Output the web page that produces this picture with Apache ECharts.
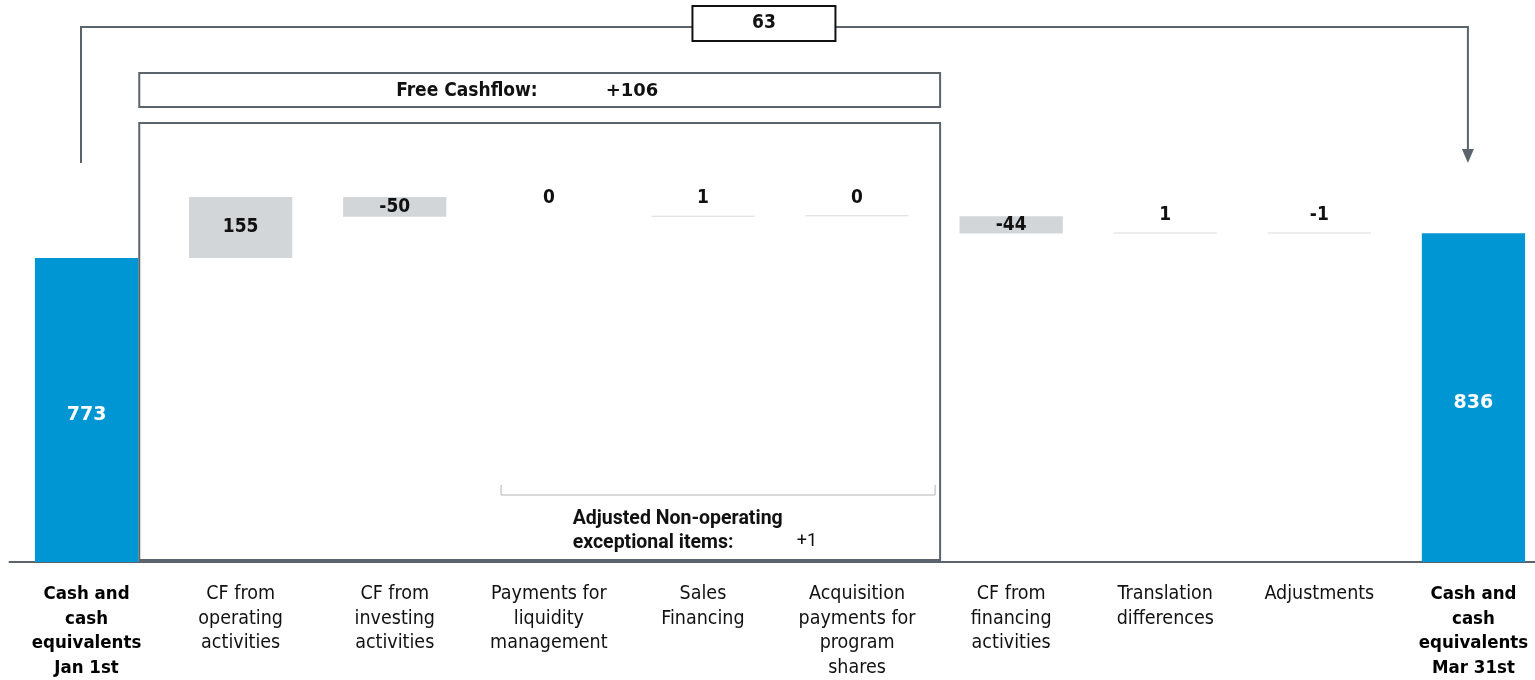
<!DOCTYPE html>
<html><head><meta charset="utf-8">
<script src="https://cdn.jsdelivr.net/npm/echarts@6/dist/echarts.min.js"></script>
<style>html,body{margin:0;padding:0;background:#fff;overflow:hidden}#c{width:1560px;height:680px}</style>
</head><body><div id="c"></div>
<script>
const categories = ['Cash and\ncash\nequivalents\nJan 1st','CF from\noperating\nactivities','CF from\ninvesting\nactivities','Payments for\nliquidity\nmanagement','Sales\nFinancing','Acquisition\npayments for\nprogram\nshares','CF from\nfinancing\nactivities','Translation\ndifferences','Adjustments','Cash and\ncash\nequivalents\nMar 31st'];
const values = [773, 155, -50, 0, 1, 0, -44, 1, -1, 836];
const isTotal = [true, false, false, false, false, false, false, false, false, true];
const netChangeLabel = '63';
const freeCashflowTitle = 'Free Cashflow:';
const freeCashflowLabel = '+106';
const nonOperatingTitle = 'Adjusted Non-operating\nexceptional items:';
const nonOperatingLabel = '+1';

const FONT = "'Liberation Sans Narrow','DejaVu Sans Condensed','Roboto Condensed',sans-serif";
const BLUE = '#0095d3', GRAY = '#d3d6d9', LINE = '#5b646c';

const base = [], height = [];
let run = 0;
values.forEach((v, i) => {
  if (isTotal[i]) { base.push(0); height.push(v); run = v; }
  else { base.push(Math.min(run, run + v)); height.push(Math.abs(v)); run += v; }
});

const visData = values.map((v, i) => {
  const item = { value: height[i] };
  if (isTotal[i]) {
    item.itemStyle = { color: BLUE };
    item.label = { position: 'inside', offset: [0, 5], color: '#fff', fontSize: 19, fontWeight: 'bold', fontFamily: "'DejaVu Sans',sans-serif" };
  } else if (Math.abs(v) >= 10) {
    item.itemStyle = { color: GRAY };
    item.label = { position: 'inside' };
  } else {
    item.itemStyle = { color: (categories[i].startsWith('Payments')) ? 'rgba(0,0,0,0)' : '#d9dbde' };
    item.label = { position: 'top', distance: 8 };
  }
  return item;
});

const chart = echarts.init(document.getElementById('c'));
const gridTop = 562 - 1400 * (304 / 773);
chart.setOption({
  animation: false,
  grid: { left: 9.5, right: 9.5, top: gridTop, bottom: 118 },
  xAxis: {
    type: 'category', data: categories,
    axisLine: { lineStyle: { color: LINE, width: 2 } },
    axisTick: { show: false },
    axisLabel: {
      interval: 0, margin: 20,
      formatter: (s, i) => s.split('\n').map(l => (isTotal[i] ? '{b|' : '{n|') + l + '}').join('\n'),
      rich: {
        n: { fontFamily: FONT, fontSize: 19.5, color: '#111', lineHeight: 24.5 },
        b: { fontFamily: FONT, fontSize: 18.5, color: '#000', fontWeight: 'bold', lineHeight: 24.5 }
      }
    }
  },
  yAxis: { type: 'value', min: 0, max: 1400, show: false, splitLine: { show: false } },
  series: [
    { type: 'bar', stack: 'w', data: base, barWidth: '67%', itemStyle: { color: 'rgba(0,0,0,0)' }, silent: true },
    { type: 'bar', stack: 'w', data: visData, barWidth: '67%', barMinHeight: 1,
      label: { show: true, fontFamily: FONT, fontSize: 19, fontWeight: 'bold', color: '#111',
        formatter: p => String(values[p.dataIndex]) } }
  ]
});

function drawAnnotations() {
  const cx = i => chart.convertToPixel({ gridIndex: 0 }, [i, 0])[0];
  const band = cx(1) - cx(0);
  const xL = cx(0) - band * 0.036;
  const xR = cx(9) - band * 0.036;
  const boxW = 143, boxMid = (xL + xR) / 2 - 10.5;
  const frameL = cx(0) + band * 0.342;
  const frameR = (cx(5) + cx(6)) / 2 + 6;
  const frameMid = (frameL + frameR) / 2;
  const brL = cx(3) - band * 0.31, brR = frameR - 5;
  const g = [
    { type: 'polyline', shape: { points: [[xL, 163], [xL, 27], [xR, 27], [xR, 151]] }, style: { stroke: LINE, lineWidth: 2, fill: null } },
    { type: 'polygon', shape: { points: [[xR - 6, 149], [xR + 6, 149], [xR, 163]] }, style: { fill: LINE } },
    { type: 'rect', shape: { x: boxMid - boxW / 2, y: 6, width: boxW, height: 35 }, style: { fill: '#fff', stroke: '#111', lineWidth: 2 } },
    { type: 'text', x: boxMid, y: 23.5, style: { text: netChangeLabel, align: 'center', verticalAlign: 'middle', font: "bold 19px " + FONT, fill: '#111' } },
    { type: 'rect', shape: { x: frameL, y: 73, width: frameR - frameL, height: 34 }, style: { fill: null, stroke: LINE, lineWidth: 2 } },
    { type: 'text', x: frameMid - 2, y: 91, style: { text: freeCashflowTitle, align: 'right', verticalAlign: 'middle', font: "bold 19px " + FONT, fill: '#111' } },
    { type: 'text', x: frameMid + 66, y: 91, style: { text: freeCashflowLabel, align: 'left', verticalAlign: 'middle', font: "bold 18px 'DejaVu Sans',sans-serif", fill: '#111' } },
    { type: 'rect', shape: { x: frameL, y: 123, width: frameR - frameL, height: 437 }, style: { fill: null, stroke: LINE, lineWidth: 2 } },
    { type: 'polyline', shape: { points: [[brL, 485], [brL, 495], [brR, 495], [brR, 485]] }, style: { stroke: '#b4b4b4', lineWidth: 1, fill: null } },
    { type: 'text', x: frameMid + 33, y: 507, style: { text: nonOperatingTitle, align: 'left', verticalAlign: 'top', font: "bold 19.5px Roboto,sans-serif", lineHeight: 24, fill: '#111' } },
    { type: 'text', x: frameMid + 257, y: 541, style: { text: nonOperatingLabel, align: 'left', verticalAlign: 'middle', font: "18px Roboto,sans-serif", fill: '#111' } }
  ];
  chart.setOption({ graphic: g });
}
drawAnnotations();
</script></body></html>
